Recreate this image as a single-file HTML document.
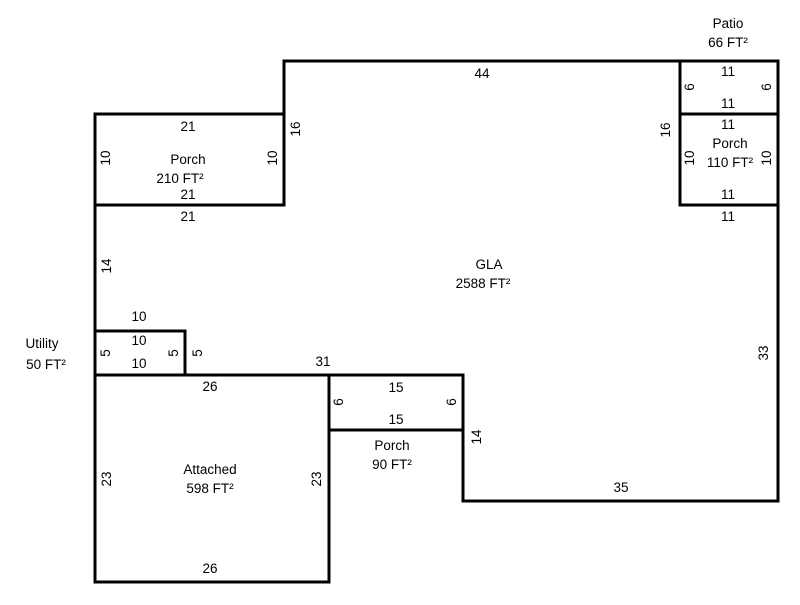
<!DOCTYPE html>
<html><head><style>body{margin:0;background:#fff}</style></head><body>
<svg width="800" height="600" xmlns="http://www.w3.org/2000/svg" font-family="Liberation Sans, Arial, sans-serif" font-size="13.5" fill="#000">
<g stroke="#000" stroke-width="3" fill="none" stroke-linecap="square">
<polyline points="284,205 284,61 778,61 778,501 463,501 463,375 95,375 95,205"/>
<rect x="95" y="114" width="189" height="91"/>
<rect x="680" y="61" width="98" height="53"/>
<rect x="680" y="114" width="98" height="91"/>
<rect x="95" y="331" width="90" height="44"/>
<rect x="95" y="375" width="234" height="207"/>
<rect x="329" y="375" width="134" height="55"/>
</g>
<g text-anchor="middle">
<text x="728" y="28">Patio</text><text x="728" y="47">66 FT²</text>
<text x="482" y="78">44</text>
<text x="728" y="76">11</text><text x="728" y="108">11</text>
<text x="728" y="129">11</text><text x="730" y="148">Porch</text><text x="730" y="167">110 FT²</text>
<text x="728" y="199">11</text><text x="728" y="221">11</text>
<text x="188" y="131">21</text><text x="188" y="164">Porch</text><text x="180" y="183">210 FT²</text>
<text x="188" y="199">21</text><text x="188" y="221">21</text>
<text x="489" y="269">GLA</text><text x="483" y="288">2588 FT²</text>
<text x="139" y="321">10</text><text x="139" y="345">10</text><text x="139" y="368">10</text>
<text x="42" y="348">Utility</text><text x="46" y="369">50 FT²</text>
<text x="323" y="366">31</text><text x="210" y="391">26</text>
<text x="396" y="392">15</text><text x="396" y="424">15</text>
<text x="392" y="450">Porch</text><text x="392" y="469">90 FT²</text>
<text x="210" y="474">Attached</text><text x="210" y="493">598 FT²</text>
<text x="621" y="492">35</text><text x="210" y="573">26</text>
</g>
<g text-anchor="middle">
<text transform="translate(300,129) rotate(-90)">16</text>
<text transform="translate(670,130) rotate(-90)">16</text>
<text transform="translate(694,87) rotate(-90)">6</text>
<text transform="translate(771,87) rotate(-90)">6</text>
<text transform="translate(694,158) rotate(-90)">10</text>
<text transform="translate(771,158) rotate(-90)">10</text>
<text transform="translate(110,158) rotate(-90)">10</text>
<text transform="translate(277,158) rotate(-90)">10</text>
<text transform="translate(111,266) rotate(-90)">14</text>
<text transform="translate(110,353) rotate(-90)">5</text>
<text transform="translate(178,353) rotate(-90)">5</text>
<text transform="translate(202,353) rotate(-90)">5</text>
<text transform="translate(768,353) rotate(-90)">33</text>
<text transform="translate(343,402) rotate(-90)">6</text>
<text transform="translate(456,402) rotate(-90)">6</text>
<text transform="translate(481,437) rotate(-90)">14</text>
<text transform="translate(111,479) rotate(-90)">23</text>
<text transform="translate(321,479) rotate(-90)">23</text>
</g>
</svg>
</body></html>
